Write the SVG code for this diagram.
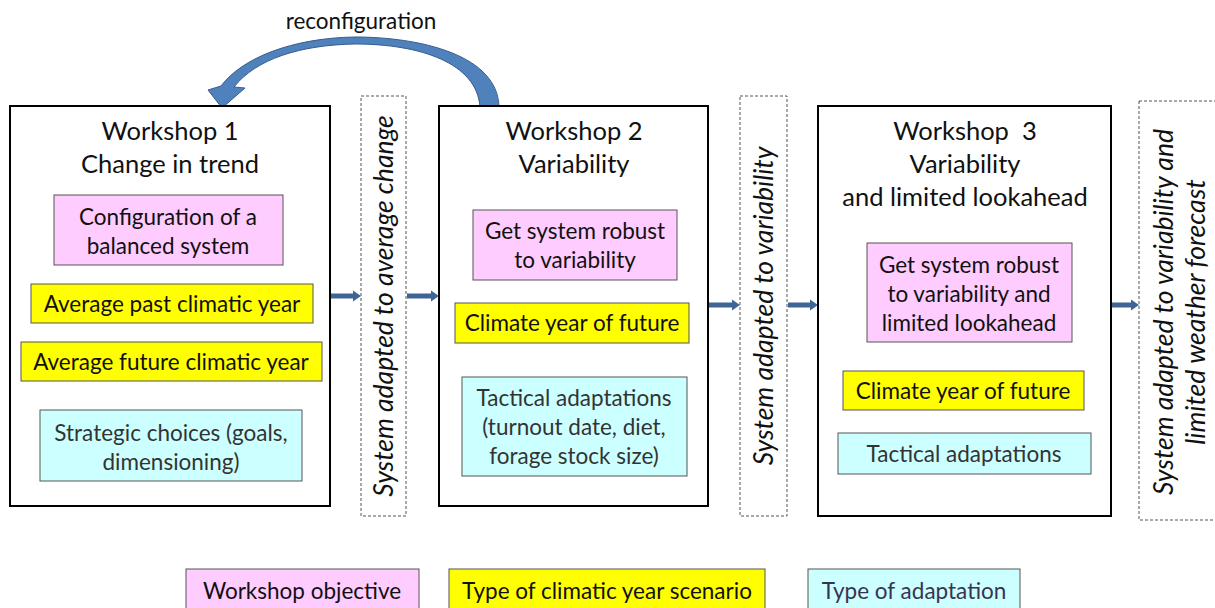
<svg xmlns="http://www.w3.org/2000/svg" width="1215" height="608" viewBox="0 0 1215 608">
<defs>
<style>
text{font-family:Lato,"Open Sans","Liberation Sans",sans-serif;fill:#111;text-anchor:middle}
.ws{fill:#fff;stroke:#000;stroke-width:2}
.dash{fill:#fff;stroke:#555;stroke-width:1;stroke-dasharray:3,2}
.pink{fill:#ffccff;stroke:#555;stroke-width:1}
.yel{fill:#ffff00;stroke:#555;stroke-width:1}
.cyan{fill:#ccffff;stroke:#555;stroke-width:1}
.t{font-size:25.5px}
.s{font-size:22.5px}
.rot{font-size:26.5px;font-style:italic}
.arr{stroke:#3f6596;stroke-width:5;fill:none;marker-end:url(#ah)}
</style>
<marker id="ah" markerWidth="9" markerHeight="12" refX="0" refY="6" orient="auto" markerUnits="userSpaceOnUse">
<path d="M0,0.5 L8,6 L0,11.5 Z" fill="#3f6596"/>
</marker>
</defs>
<rect width="1215" height="608" fill="#fff"/>

<g id="connectors">
<line class="arr" x1="331" y1="296" x2="353" y2="296"/>
<line class="arr" x1="407" y1="296" x2="431" y2="296"/>
<line class="arr" x1="709" y1="305" x2="732" y2="305"/>
<line class="arr" x1="788" y1="305" x2="810" y2="305"/>
<line class="arr" x1="1112" y1="305" x2="1131" y2="305"/>
<path id="reconf-arrow" d="M480 107 L499 107 C498 55 420 37 355 37 C292 38 242 58 221 86 L208 90 L222 108 L245 88 L234 87 C256 59 300 45 355 44 C420 44 477 63 480 107 Z" fill="#4f81bd" stroke="#385d8a" stroke-width="1"/>
<text x="361" y="29" class="s">reconfiguration</text>
</g>

<g id="workshop1">
<rect class="ws" x="10" y="106" width="320" height="400"/>
<text x="170" y="140" class="t">Workshop 1</text>
<text x="170" y="173" class="t">Change in trend</text>
<rect class="pink" x="54" y="195" width="229" height="70"/>
<text x="168" y="225" class="s">Configuration of a</text>
<text x="168" y="254" class="s">balanced system</text>
<rect class="yel" x="31" y="284" width="282" height="39"/>
<text x="172" y="312" class="s">Average past climatic year</text>
<rect class="yel" x="21" y="342" width="301" height="39"/>
<text x="171" y="370" class="s">Average future climatic year</text>
<rect class="cyan" x="40" y="410" width="262" height="71"/>
<text x="171" y="441" class="s" style="fill:#333">Strategic choices (goals,</text>
<text x="171" y="470" class="s" style="fill:#333">dimensioning)</text>
</g>

<g id="result1">
<rect class="dash" x="361" y="96" width="45" height="420"/>
<text transform="translate(393,306) rotate(-90)" class="rot">System adapted to average change</text>
</g>

<g id="workshop2">
<rect class="ws" x="439" y="106" width="269" height="400"/>
<text x="574" y="140" class="t">Workshop 2</text>
<text x="574" y="173" class="t">Variability</text>
<rect class="pink" x="473" y="210" width="204" height="70"/>
<text x="575" y="239" class="s">Get system robust</text>
<text x="575" y="268" class="s">to variability</text>
<rect class="yel" x="455" y="303" width="234" height="40"/>
<text x="572" y="331" class="s">Climate year of future</text>
<rect class="cyan" x="462" y="377" width="225" height="99"/>
<text x="574" y="406" class="s" style="fill:#333">Tactical adaptations</text>
<text x="574" y="435" class="s" style="fill:#333">(turnout date, diet,</text>
<text x="574" y="464" class="s" style="fill:#333">forage stock size)</text>
</g>

<g id="result2">
<rect class="dash" x="740" y="96" width="47" height="420"/>
<text transform="translate(773,306) rotate(-90)" class="rot">System adapted to variability</text>
</g>

<g id="workshop3">
<rect class="ws" x="818" y="106" width="293" height="410"/>
<text x="965" y="140" class="t" xml:space="preserve">Workshop  3</text>
<text x="965" y="173" class="t">Variability</text>
<text x="965" y="206" class="t">and limited lookahead</text>
<rect class="pink" x="867" y="243" width="205" height="99"/>
<text x="969" y="273" class="s">Get system robust</text>
<text x="969" y="302" class="s">to variability and</text>
<text x="969" y="331" class="s">limited lookahead</text>
<rect class="yel" x="843" y="371" width="241" height="39"/>
<text x="963" y="399" class="s">Climate year of future</text>
<rect class="cyan" x="838" y="433" width="253" height="41"/>
<text x="964" y="462" class="s" style="fill:#333">Tactical adaptations</text>
</g>

<g id="result3">
<rect class="dash" x="1139" y="101" width="90" height="419"/>
<text transform="translate(1173,312) rotate(-90)" class="rot">System adapted to variability and</text>
<text transform="translate(1205,312) rotate(-90)" class="rot">limited weather forecast</text>
</g>

<g id="legend">
<rect class="pink" x="186" y="569" width="233" height="50"/>
<text x="302" y="599" class="s">Workshop objective</text>
<rect class="yel" x="449" y="569" width="316" height="50"/>
<text x="607" y="599" class="s">Type of climatic year scenario</text>
<rect class="cyan" x="808" y="569" width="212" height="50"/>
<text x="914" y="599" class="s" style="fill:#3a3350">Type of adaptation</text>
</g>
</svg>
